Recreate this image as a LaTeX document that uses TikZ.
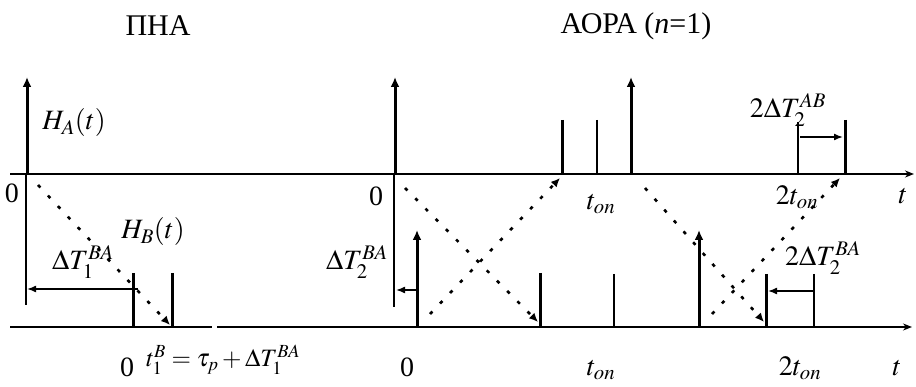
\documentclass[tikz,border=0pt]{standalone}
\usepackage{mathptmx}
\usepackage{fontspec}
\setmainfont{Liberation Serif}
\usetikzlibrary{arrows.meta}
\begin{document}
\begin{tikzpicture}[x=1pt,y=-1pt,
  axis/.style={line width=1.5pt},
  axisarr/.style={line width=1.5pt,-{Stealth[length=9pt,width=7pt]}},
  pulse/.style={line width=3pt,-{Latex[length=10pt,width=9pt]}},
  thickbar/.style={line width=3pt},
  thinbar/.style={line width=1.5pt},
  gaparr/.style={line width=1.5pt,-{Latex[length=9pt,width=7pt]}},
  ray/.style={line width=2.6pt,dash pattern=on 3.5pt off 11pt,-{Latex[length=9pt,width=8pt]}},
  lbl/.style={font=\fontsize{28}{32}\selectfont,inner sep=0pt},
  flbl/.style={font=\fontsize{25}{30}\selectfont,inner sep=0pt},
  ttl/.style={font=\fontsize{30}{34}\selectfont,inner sep=0pt}]
\useasboundingbox (0,0) rectangle (916,387);
% axes
\coordinate (TA1) at (10,174); \coordinate (TA2) at (914,174);
\coordinate (BL1) at (10,327); \coordinate (BL2) at (212,327);
\coordinate (BR1) at (217,327); \coordinate (BR2) at (912,327);
\draw[axisarr] (TA1) -- (TA2);
\draw[axis] (BL1) -- (BL2);
\draw[axisarr] (BR1) -- (BR2);
% titles
\node[ttl] (t1) at (158,26) {ПНА};
\node[ttl] (t2) at (636,26) {АОРА (\textit{n}=1)};
% ---- left panel
\coordinate (LA0) at (27,174); \coordinate (LA1) at (27,77);
\draw[pulse] (LA0) -- (LA1);
\coordinate (LV0) at (26,174); \coordinate (LV1) at (26,305);
\draw[thinbar] (LV0) -- (LV1);
\coordinate (LP1a) at (133,273); \coordinate (LP1b) at (133,327);
\coordinate (LP2a) at (172,273); \coordinate (LP2b) at (172,327);
\draw[thickbar] (LP1a) -- (LP1b);
\draw[thickbar] (LP2a) -- (LP2b);
\coordinate (LR0) at (38,185); \coordinate (LR1) at (170,325);
\draw[ray] (LR0) -- (LR1);
\coordinate (LG0) at (138,289); \coordinate (LG1) at (27,289);
\draw[gaparr] (LG0) -- (LG1);
\node[lbl] (z1) at (12,193) {0};
\node[lbl] (ha) at (74,123) {$H_A(t)$};
\node[lbl] (hb) at (153,232) {$H_B(t)$};
\node[lbl] (d1) at (83,262) {$\Delta T_1^{BA}$};
\node[lbl] (z2) at (127,367) {0};
\node[flbl,anchor=west] (f1) at (146,360) {$t_1^B=\tau_p+\Delta T_1^{BA}$};
% ---- right panel, top
\coordinate (RA0) at (395,174); \coordinate (RA1) at (395,77);
\draw[pulse] (RA0) -- (RA1);
\coordinate (RV0) at (394,174); \coordinate (RV1) at (394,307);
\draw[thinbar] (RV0) -- (RV1);
\coordinate (RT1a) at (562,120); \coordinate (RT1b) at (562,174);
\coordinate (RT2a) at (597,120); \coordinate (RT2b) at (597,174);
\draw[thickbar] (RT1a) -- (RT1b);
\draw[thinbar] (RT2a) -- (RT2b);
\coordinate (RB0) at (631,174); \coordinate (RB1) at (631,77);
\draw[pulse] (RB0) -- (RB1);
\coordinate (RT3a) at (798,122); \coordinate (RT3b) at (798,174);
\coordinate (RT4a) at (845,120); \coordinate (RT4b) at (845,174);
\draw[thinbar] (RT3a) -- (RT3b);
\draw[thickbar] (RT4a) -- (RT4b);
\coordinate (RG0) at (800,137); \coordinate (RG1) at (843,137);
\draw[gaparr] (RG0) -- (RG1);
% ---- right panel, bottom
\coordinate (RC0) at (417,327); \coordinate (RC1) at (417,230);
\draw[pulse] (RC0) -- (RC1);
\coordinate (RD0) at (417,290); \coordinate (RD1) at (396,290);
\draw[gaparr] (RD0) -- (RD1);
\coordinate (RE1a) at (540,273); \coordinate (RE1b) at (540,327);
\coordinate (RE2a) at (614,274); \coordinate (RE2b) at (614,327);
\draw[thickbar] (RE1a) -- (RE1b);
\draw[thinbar] (RE2a) -- (RE2b);
\coordinate (RF0) at (699,327); \coordinate (RF1) at (699,230);
\draw[pulse] (RF0) -- (RF1);
\coordinate (RE3a) at (766,274); \coordinate (RE3b) at (766,327);
\coordinate (RE4a) at (814,274); \coordinate (RE4b) at (814,327);
\draw[thickbar] (RE3a) -- (RE3b);
\draw[thinbar] (RE4a) -- (RE4b);
\coordinate (RH0) at (814,291); \coordinate (RH1) at (768,291);
\draw[gaparr] (RH0) -- (RH1);
% rays
\coordinate (R1a) at (405,188); \coordinate (R1b) at (538,322);
\coordinate (R2a) at (430,314); \coordinate (R2b) at (560,178);
\coordinate (R3a) at (645,188); \coordinate (R3b) at (764,322);
\coordinate (R4a) at (712,314); \coordinate (R4b) at (840,178);
\draw[ray] (R1a) -- (R1b);
\draw[ray] (R2a) -- (R2b);
\draw[ray] (R3a) -- (R3b);
\draw[ray] (R4a) -- (R4b);
% labels
\node[lbl] (z3) at (376,196) {0};
\node[lbl] (ton1) at (601,204) {$t_{on}$};
\node[lbl] (dab) at (788,110) {$2\Delta T_2^{AB}$};
\node[lbl] (tt1) at (797,197) {$2t_{on}$};
\node[lbl] (tx1) at (903,196) {$t$};
\node[lbl] (d2) at (357,262) {$\Delta T_2^{BA}$};
\node[lbl] (dba) at (823,258) {$2\Delta T_2^{BA}$};
\node[lbl] (z4) at (407,367) {0};
\node[lbl] (ton2) at (601,370) {$t_{on}$};
\node[lbl] (tt2) at (800,368) {$2t_{on}$};
\node[lbl] (tx2) at (897,368) {$t$};
\end{tikzpicture}
\end{document}
